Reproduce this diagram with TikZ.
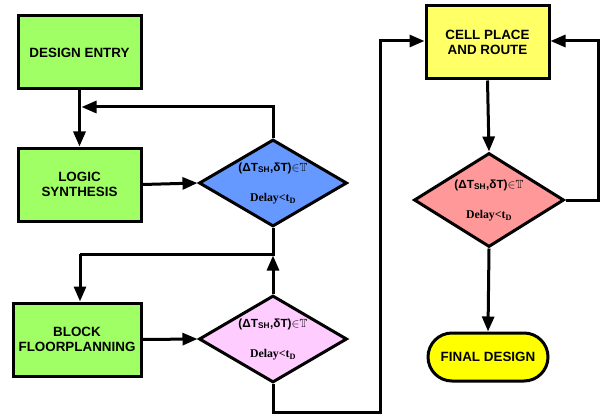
\documentclass[tikz,border=0pt]{standalone}
\usepackage{fontspec}
\usepackage{amssymb}
\newfontfamily\hv{Liberation Sans}
\newfontfamily\tm{Liberation Serif}
\usetikzlibrary{shapes.geometric,arrows.meta,calc}
\definecolor{boxgreen}{RGB}{160,255,100}
\definecolor{dblue}{RGB}{102,153,255}
\definecolor{dpink}{RGB}{255,204,255}
\definecolor{dsalmon}{RGB}{255,153,153}
\definecolor{cyel}{RGB}{255,255,102}
\definecolor{fyel}{RGB}{255,255,0}
\newcommand{\condA}{{\hv\bfseries (ΔT\textsubscript{SH},δT)}${\in}\mathbb{T}$}
\newcommand{\condB}{{\tm\bfseries Delay<t\textsubscript{D}}}
\begin{document}
\begin{tikzpicture}[x=1pt,y=-1pt,line width=3pt,
  procbox/.style={draw=black,rectangle,align=center,inner sep=0pt,
    font=\hv\bfseries\fontsize{13.4}{15.5}\selectfont},
  decbox/.style={draw=black,diamond,inner sep=0pt,minimum width=148pt,minimum height=87pt},
  condtext/.style={inner sep=0pt,font=\fontsize{11.8}{13}\selectfont},
  flow/.style={-{Triangle[length=15pt,width=12pt]},line join=miter},
  wire/.style={line join=miter}]
\useasboundingbox (0,0) rectangle (601,414);
% process boxes
\node[procbox,fill=boxgreen,minimum width=123pt,minimum height=73pt] (de) at (79.5,52.5) {DESIGN ENTRY};
\node[procbox,fill=boxgreen,minimum width=123pt,minimum height=73pt] (ls) at (79.5,184.5) {LOGIC\\SYNTHESIS};
\node[procbox,fill=boxgreen,minimum width=128pt,minimum height=73pt] (bf) at (77,339.5) {BLOCK\\FLOORPLANNING};
\node[procbox,fill=cyel,minimum width=123pt,minimum height=73pt] (cp) at (487.5,42.5) {CELL PLACE\\AND ROUTE};
\node[procbox,fill=fyel,minimum width=120pt,minimum height=48pt,rounded corners=24pt] (fd) at (488,357) {FINAL DESIGN};
% decisions
\node[decbox,fill=dblue] (bd) at (273,183) {};
\node[condtext] (bd1) at (273,168) {\condA};
\node[condtext] (bd2) at (273,199) {\condB};
\node[decbox,fill=dpink] (pd) at (273,339) {};
\node[condtext] (pd1) at (273,324) {\condA};
\node[condtext] (pd2) at (273,355) {\condB};
\node[decbox,fill=dsalmon,minimum width=150pt,minimum height=94pt] (sd) at (489,200) {};
\node[condtext] (sd1) at (489,185) {\condA};
\node[condtext] (sd2) at (489,216) {\condB};
% junctions
\coordinate (j1) at (81.5,107);
\coordinate (j2) at (273,255.5);
\coordinate (j3) at (273,254);
\coordinate (j4) at (80,254);
\coordinate (j5) at (273,412);
\coordinate (j6) at (380,412);
\coordinate (j7) at (380,41);
\coordinate (j8) at (598,200);
\coordinate (j9) at (598,41);
% connectors
\draw[flow] (de.south) -- (ls.north);
\draw[flow] (bd.north) |- (j1);
\draw[flow] (ls.east) -- (bd.west);
\draw[wire] (bd.south) -- (j3) -- (j4);
\draw[flow] (j4) -- (j4 |- bf.north);
\draw[flow] (bf.east) -- (pd.west);
\draw[flow] (pd.north) -- (j2);
\draw[flow] (pd.south) -- (j5) -- (j6) -- (j7) -- (j7 -| cp.west);
\draw[flow] (cp.south) -- (sd.north);
\draw[flow] (sd.east) -- (j8) -- (j9) -- (j9 -| cp.east);
\draw[flow] (sd.south) -- (fd.north);
\end{tikzpicture}
\end{document}
